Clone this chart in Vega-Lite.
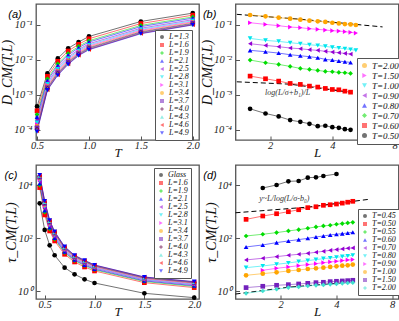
{
"$schema":"https://vega.github.io/schema/vega-lite/v6.json",
"padding":{"left":0,"top":3,"right":1,"bottom":1},
"columns":2,
"spacing":{"row":25,"column":36.5},
"bounds":"flush",
"resolve":{"scale":{"x":"independent","y":"independent","color":"independent","shape":"independent","stroke":"independent"},"legend":{"color":"independent","shape":"independent","stroke":"independent"}},
"datasets":{
"a":[
{"s":"L=1.3","x":0.5,"y":4.6e-4},{"s":"L=1.3","x":0.6,"y":4.07e-3},{"s":"L=1.3","x":0.7,"y":0.011},{"s":"L=1.3","x":0.8,"y":0.0214},{"s":"L=1.3","x":0.9,"y":0.0324},{"s":"L=1.3","x":1.0,"y":0.0468},{"s":"L=1.3","x":1.5,"y":0.126},{"s":"L=1.3","x":2.0,"y":0.219},
{"s":"L=1.6","x":0.5,"y":3.45e-4},{"s":"L=1.6","x":0.6,"y":3.37e-3},{"s":"L=1.6","x":0.7,"y":9.08e-3},{"s":"L=1.6","x":0.8,"y":0.0179},{"s":"L=1.6","x":0.9,"y":0.0278},{"s":"L=1.6","x":1.0,"y":0.0403},{"s":"L=1.6","x":1.5,"y":0.110},{"s":"L=1.6","x":2.0,"y":0.191},
{"s":"L=1.9","x":0.5,"y":2.7e-4},{"s":"L=1.9","x":0.6,"y":2.86e-3},{"s":"L=1.9","x":0.7,"y":7.69e-3},{"s":"L=1.9","x":0.8,"y":0.0152},{"s":"L=1.9","x":0.9,"y":0.0243},{"s":"L=1.9","x":1.0,"y":0.0353},{"s":"L=1.9","x":1.5,"y":0.0973},{"s":"L=1.9","x":2.0,"y":0.170},
{"s":"L=2.1","x":0.5,"y":2.3e-4},{"s":"L=2.1","x":0.6,"y":2.56e-3},{"s":"L=2.1","x":0.7,"y":6.89e-3},{"s":"L=2.1","x":0.8,"y":0.0137},{"s":"L=2.1","x":0.9,"y":0.0222},{"s":"L=2.1","x":1.0,"y":0.0324},{"s":"L=2.1","x":1.5,"y":0.0897},{"s":"L=2.1","x":2.0,"y":0.157},
{"s":"L=2.5","x":0.5,"y":1.84e-4},{"s":"L=2.5","x":0.6,"y":2.22e-3},{"s":"L=2.5","x":0.7,"y":5.97e-3},{"s":"L=2.5","x":0.8,"y":0.0119},{"s":"L=2.5","x":0.9,"y":0.0197},{"s":"L=2.5","x":1.0,"y":0.0289},{"s":"L=2.5","x":1.5,"y":0.0807},{"s":"L=2.5","x":2.0,"y":0.142},
{"s":"L=2.8","x":0.5,"y":1.58e-4},{"s":"L=2.8","x":0.6,"y":2.01e-3},{"s":"L=2.8","x":0.7,"y":5.41e-3},{"s":"L=2.8","x":0.8,"y":0.0109},{"s":"L=2.8","x":0.9,"y":0.0182},{"s":"L=2.8","x":1.0,"y":0.0267},{"s":"L=2.8","x":1.5,"y":0.0752},{"s":"L=2.8","x":2.0,"y":0.132},
{"s":"L=3.1","x":0.5,"y":1.39e-4},{"s":"L=3.1","x":0.6,"y":1.84e-3},{"s":"L=3.1","x":0.7,"y":4.94e-3},{"s":"L=3.1","x":0.8,"y":9.98e-3},{"s":"L=3.1","x":0.9,"y":0.0169},{"s":"L=3.1","x":1.0,"y":0.0249},{"s":"L=3.1","x":1.5,"y":0.0705},{"s":"L=3.1","x":2.0,"y":0.124},
{"s":"L=3.4","x":0.5,"y":1.23e-4},{"s":"L=3.4","x":0.6,"y":1.70e-3},{"s":"L=3.4","x":0.7,"y":4.58e-3},{"s":"L=3.4","x":0.8,"y":9.27e-3},{"s":"L=3.4","x":0.9,"y":0.0159},{"s":"L=3.4","x":1.0,"y":0.0234},{"s":"L=3.4","x":1.5,"y":0.0665},{"s":"L=3.4","x":2.0,"y":0.118},
{"s":"L=3.7","x":0.5,"y":1.12e-4},{"s":"L=3.7","x":0.6,"y":1.59e-3},{"s":"L=3.7","x":0.7,"y":4.29e-3},{"s":"L=3.7","x":0.8,"y":8.69e-3},{"s":"L=3.7","x":0.9,"y":0.0151},{"s":"L=3.7","x":1.0,"y":0.0222},{"s":"L=3.7","x":1.5,"y":0.0634},{"s":"L=3.7","x":2.0,"y":0.112},
{"s":"L=4.0","x":0.5,"y":1.03e-4},{"s":"L=4.0","x":0.6,"y":1.51e-3},{"s":"L=4.0","x":0.7,"y":4.06e-3},{"s":"L=4.0","x":0.8,"y":8.24e-3},{"s":"L=4.0","x":0.9,"y":0.0144},{"s":"L=4.0","x":1.0,"y":0.0213},{"s":"L=4.0","x":1.5,"y":0.0610},{"s":"L=4.0","x":2.0,"y":0.108},
{"s":"L=4.3","x":0.5,"y":9.6e-5},{"s":"L=4.3","x":0.6,"y":1.44e-3},{"s":"L=4.3","x":0.7,"y":3.88e-3},{"s":"L=4.3","x":0.8,"y":7.91e-3},{"s":"L=4.3","x":0.9,"y":0.0139},{"s":"L=4.3","x":1.0,"y":0.0206},{"s":"L=4.3","x":1.5,"y":0.0590},{"s":"L=4.3","x":2.0,"y":0.105},
{"s":"L=4.6","x":0.5,"y":9.2e-5},{"s":"L=4.6","x":0.6,"y":1.39e-3},{"s":"L=4.6","x":0.7,"y":3.75e-3},{"s":"L=4.6","x":0.8,"y":7.66e-3},{"s":"L=4.6","x":0.9,"y":0.0136},{"s":"L=4.6","x":1.0,"y":0.0200},{"s":"L=4.6","x":1.5,"y":0.0575},{"s":"L=4.6","x":2.0,"y":0.102},
{"s":"L=4.9","x":0.5,"y":8.7e-5},{"s":"L=4.9","x":0.6,"y":1.35e-3},{"s":"L=4.9","x":0.7,"y":3.63e-3},{"s":"L=4.9","x":0.8,"y":7.41e-3},{"s":"L=4.9","x":0.9,"y":0.0132},{"s":"L=4.9","x":1.0,"y":0.0195},{"s":"L=4.9","x":1.5,"y":0.0562},{"s":"L=4.9","x":2.0,"y":0.100}
],
"b":[
{"s":"T=2.00","x":1.6,"y":0.193},{"s":"T=2.00","x":1.9,"y":0.177},{"s":"T=2.00","x":2.2,"y":0.162},{"s":"T=2.00","x":2.5,"y":0.152},{"s":"T=2.00","x":2.8,"y":0.142},{"s":"T=2.00","x":3.1,"y":0.133},{"s":"T=2.00","x":3.4,"y":0.127},{"s":"T=2.00","x":3.7,"y":0.122},{"s":"T=2.00","x":4.0,"y":0.116},{"s":"T=2.00","x":4.3,"y":0.111},{"s":"T=2.00","x":4.6,"y":0.106},{"s":"T=2.00","x":4.9,"y":0.104},{"s":"T=2.00","x":5.2,"y":0.0998},
{"s":"T=1.50","x":1.6,"y":0.116},{"s":"T=1.50","x":1.9,"y":0.104},{"s":"T=1.50","x":2.2,"y":0.0953},{"s":"T=1.50","x":2.5,"y":0.0873},{"s":"T=1.50","x":2.8,"y":0.0836},{"s":"T=1.50","x":3.1,"y":0.0782},{"s":"T=1.50","x":3.4,"y":0.0748},{"s":"T=1.50","x":3.7,"y":0.0716},{"s":"T=1.50","x":4.0,"y":0.0685},{"s":"T=1.50","x":4.3,"y":0.067},{"s":"T=1.50","x":4.6,"y":0.0641},{"s":"T=1.50","x":4.9,"y":0.0614},{"s":"T=1.50","x":5.2,"y":0.0587},
{"s":"T=1.00","x":1.6,"y":0.0412},{"s":"T=1.00","x":1.9,"y":0.0361},{"s":"T=1.00","x":2.2,"y":0.0338},{"s":"T=1.00","x":2.5,"y":0.031},{"s":"T=1.00","x":2.8,"y":0.029},{"s":"T=1.00","x":3.1,"y":0.0271},{"s":"T=1.00","x":3.4,"y":0.0259},{"s":"T=1.00","x":3.7,"y":0.0243},{"s":"T=1.00","x":4.0,"y":0.0228},{"s":"T=1.00","x":4.3,"y":0.0218},{"s":"T=1.00","x":4.6,"y":0.0208},{"s":"T=1.00","x":4.9,"y":0.0199},{"s":"T=1.00","x":5.2,"y":0.0187},
{"s":"T=0.90","x":1.6,"y":0.029},{"s":"T=0.90","x":1.9,"y":0.0259},{"s":"T=0.90","x":2.2,"y":0.0238},{"s":"T=0.90","x":2.5,"y":0.0218},{"s":"T=0.90","x":2.8,"y":0.0208},{"s":"T=0.90","x":3.1,"y":0.0195},{"s":"T=0.90","x":3.4,"y":0.0187},{"s":"T=0.90","x":3.7,"y":0.0175},{"s":"T=0.90","x":4.0,"y":0.0167},{"s":"T=0.90","x":4.3,"y":0.016},{"s":"T=0.90","x":4.6,"y":0.0153},{"s":"T=0.90","x":4.9,"y":0.0146},
{"s":"T=0.80","x":1.6,"y":0.0187},{"s":"T=0.80","x":1.9,"y":0.0171},{"s":"T=0.80","x":2.2,"y":0.0156},{"s":"T=0.80","x":2.5,"y":0.014},{"s":"T=0.80","x":2.8,"y":0.0131},{"s":"T=0.80","x":3.1,"y":0.0123},{"s":"T=0.80","x":3.4,"y":0.0115},{"s":"T=0.80","x":3.7,"y":0.0103},{"s":"T=0.80","x":4.0,"y":0.00984},{"s":"T=0.80","x":4.3,"y":0.0092},{"s":"T=0.80","x":4.6,"y":0.00881},{"s":"T=0.80","x":4.9,"y":0.00843},
{"s":"T=0.70","x":1.6,"y":0.00984},{"s":"T=0.70","x":1.9,"y":0.00824},{"s":"T=0.70","x":2.2,"y":0.00738},{"s":"T=0.70","x":2.5,"y":0.00647},{"s":"T=0.70","x":2.8,"y":0.00566},{"s":"T=0.70","x":3.1,"y":0.00531},{"s":"T=0.70","x":3.4,"y":0.00497},{"s":"T=0.70","x":3.7,"y":0.00465},{"s":"T=0.70","x":4.0,"y":0.00455},{"s":"T=0.70","x":4.3,"y":0.00435},{"s":"T=0.70","x":4.6,"y":0.00426},{"s":"T=0.70","x":4.9,"y":0.00407},
{"s":"T=0.60","x":1.6,"y":0.00341},{"s":"T=0.60","x":1.9,"y":0.00286},{"s":"T=0.60","x":2.2,"y":0.00245},{"s":"T=0.60","x":2.5,"y":0.0021},{"s":"T=0.60","x":2.8,"y":0.00197},{"s":"T=0.60","x":3.1,"y":0.00176},{"s":"T=0.60","x":3.4,"y":0.00165},{"s":"T=0.60","x":3.7,"y":0.00151},{"s":"T=0.60","x":4.0,"y":0.00141},{"s":"T=0.60","x":4.3,"y":0.00138},{"s":"T=0.60","x":4.6,"y":0.00126},{"s":"T=0.60","x":4.9,"y":0.00118},
{"s":"T=0.50","x":1.6,"y":3.93e-4},{"s":"T=0.50","x":1.9,"y":2.88e-4},{"s":"T=0.50","x":2.2,"y":2.37e-4},{"s":"T=0.50","x":2.5,"y":1.86e-4},{"s":"T=0.50","x":2.8,"y":1.66e-4},{"s":"T=0.50","x":3.1,"y":1.46e-4},{"s":"T=0.50","x":3.4,"y":1.25e-4},{"s":"T=0.50","x":3.7,"y":1.28e-4},{"s":"T=0.50","x":4.0,"y":1.17e-4},{"s":"T=0.50","x":4.3,"y":1.12e-4},{"s":"T=0.50","x":4.6,"y":1.02e-4},{"s":"T=0.50","x":4.9,"y":9.8e-5}
],
"bf":[
{"f":"b1","x":1.38,"y":0.202},{"f":"b1","x":2.85,"y":0.145},{"f":"b1","x":7.0,"y":0.088},
{"f":"b2","x":1.38,"y":0.00234},{"f":"b2","x":2.5,"y":0.0020},{"f":"b2","x":4.95,"y":0.00115}
],
"c":[
{"s":"Glass","x":0.45,"y":2120},{"s":"Glass","x":0.5,"y":209},{"s":"Glass","x":0.55,"y":55.2},{"s":"Glass","x":0.6,"y":23.2},{"s":"Glass","x":0.7,"y":7.93},{"s":"Glass","x":0.8,"y":4.45},{"s":"Glass","x":0.9,"y":2.88},{"s":"Glass","x":1.0,"y":2.09},{"s":"Glass","x":1.5,"y":0.853},{"s":"Glass","x":2.0,"y":0.585},
{"s":"L=1.6","x":0.45,"y":8280},{"s":"L=1.6","x":0.5,"y":771},{"s":"L=1.6","x":0.55,"y":192},{"s":"L=1.6","x":0.6,"y":80.5},{"s":"L=1.6","x":0.7,"y":25.3},{"s":"L=1.6","x":0.8,"y":12.97},{"s":"L=1.6","x":0.9,"y":8.41},{"s":"L=1.6","x":1.0,"y":5.94},{"s":"L=1.6","x":1.5,"y":2.15},{"s":"L=1.6","x":2.0,"y":1.40},
{"s":"L=1.9","x":0.45,"y":10300},{"s":"L=1.9","x":0.5,"y":984},{"s":"L=1.9","x":0.55,"y":231},{"s":"L=1.9","x":0.6,"y":94.6},{"s":"L=1.9","x":0.7,"y":28.9},{"s":"L=1.9","x":0.8,"y":14.6},{"s":"L=1.9","x":0.9,"y":9.44},{"s":"L=1.9","x":1.0,"y":6.59},{"s":"L=1.9","x":1.5,"y":2.38},{"s":"L=1.9","x":2.0,"y":1.55},
{"s":"L=2.1","x":0.45,"y":11800},{"s":"L=2.1","x":0.5,"y":1140},{"s":"L=2.1","x":0.55,"y":258},{"s":"L=2.1","x":0.6,"y":104.5},{"s":"L=2.1","x":0.7,"y":31.3},{"s":"L=2.1","x":0.8,"y":15.6},{"s":"L=2.1","x":0.9,"y":10.1},{"s":"L=2.1","x":1.0,"y":7.01},{"s":"L=2.1","x":1.5,"y":2.52},{"s":"L=2.1","x":2.0,"y":1.65},
{"s":"L=2.5","x":0.45,"y":13900},{"s":"L=2.5","x":0.5,"y":1360},{"s":"L=2.5","x":0.55,"y":296},{"s":"L=2.5","x":0.6,"y":118},{"s":"L=2.5","x":0.7,"y":34.6},{"s":"L=2.5","x":0.8,"y":17.0},{"s":"L=2.5","x":0.9,"y":11.0},{"s":"L=2.5","x":1.0,"y":7.59},{"s":"L=2.5","x":1.5,"y":2.72},{"s":"L=2.5","x":2.0,"y":1.78},
{"s":"L=2.8","x":0.45,"y":15700},{"s":"L=2.8","x":0.5,"y":1560},{"s":"L=2.8","x":0.55,"y":329},{"s":"L=2.8","x":0.6,"y":129},{"s":"L=2.8","x":0.7,"y":37.2},{"s":"L=2.8","x":0.8,"y":18.2},{"s":"L=2.8","x":0.9,"y":11.8},{"s":"L=2.8","x":1.0,"y":8.04},{"s":"L=2.8","x":1.5,"y":2.86},{"s":"L=2.8","x":2.0,"y":1.89},
{"s":"L=3.1","x":0.45,"y":17300},{"s":"L=3.1","x":0.5,"y":1740},{"s":"L=3.1","x":0.55,"y":357},{"s":"L=3.1","x":0.6,"y":139},{"s":"L=3.1","x":0.7,"y":39.5},{"s":"L=3.1","x":0.8,"y":19.1},{"s":"L=3.1","x":0.9,"y":12.4},{"s":"L=3.1","x":1.0,"y":8.41},{"s":"L=3.1","x":1.5,"y":2.99},{"s":"L=3.1","x":2.0,"y":1.98},
{"s":"L=3.4","x":0.45,"y":18900},{"s":"L=3.4","x":0.5,"y":1920},{"s":"L=3.4","x":0.55,"y":385},{"s":"L=3.4","x":0.6,"y":148},{"s":"L=3.4","x":0.7,"y":41.7},{"s":"L=3.4","x":0.8,"y":20.0},{"s":"L=3.4","x":0.9,"y":13.0},{"s":"L=3.4","x":1.0,"y":8.79},{"s":"L=3.4","x":1.5,"y":3.12},{"s":"L=3.4","x":2.0,"y":2.07},
{"s":"L=3.7","x":0.45,"y":20400},{"s":"L=3.7","x":0.5,"y":2090},{"s":"L=3.7","x":0.55,"y":410},{"s":"L=3.7","x":0.6,"y":157},{"s":"L=3.7","x":0.7,"y":43.7},{"s":"L=3.7","x":0.8,"y":20.9},{"s":"L=3.7","x":0.9,"y":13.5},{"s":"L=3.7","x":1.0,"y":9.10},{"s":"L=3.7","x":1.5,"y":3.22},{"s":"L=3.7","x":2.0,"y":2.14},
{"s":"L=4.0","x":0.45,"y":21800},{"s":"L=4.0","x":0.5,"y":2250},{"s":"L=4.0","x":0.55,"y":435},{"s":"L=4.0","x":0.6,"y":164},{"s":"L=4.0","x":0.7,"y":45.4},{"s":"L=4.0","x":0.8,"y":21.6},{"s":"L=4.0","x":0.9,"y":14.0},{"s":"L=4.0","x":1.0,"y":9.40},{"s":"L=4.0","x":1.5,"y":3.32},{"s":"L=4.0","x":2.0,"y":2.21},
{"s":"L=4.3","x":0.45,"y":23100},{"s":"L=4.3","x":0.5,"y":2390},{"s":"L=4.3","x":0.55,"y":455},{"s":"L=4.3","x":0.6,"y":171},{"s":"L=4.3","x":0.7,"y":47.0},{"s":"L=4.3","x":0.8,"y":22.2},{"s":"L=4.3","x":0.9,"y":14.4},{"s":"L=4.3","x":1.0,"y":9.64},{"s":"L=4.3","x":1.5,"y":3.40},{"s":"L=4.3","x":2.0,"y":2.26},
{"s":"L=4.6","x":0.45,"y":24100},{"s":"L=4.6","x":0.5,"y":2510},{"s":"L=4.6","x":0.55,"y":472},{"s":"L=4.6","x":0.6,"y":177},{"s":"L=4.6","x":0.7,"y":48.2},{"s":"L=4.6","x":0.8,"y":22.8},{"s":"L=4.6","x":0.9,"y":14.7},{"s":"L=4.6","x":1.0,"y":9.84},{"s":"L=4.6","x":1.5,"y":3.48},{"s":"L=4.6","x":2.0,"y":2.31},
{"s":"L=4.9","x":0.45,"y":24900},{"s":"L=4.9","x":0.5,"y":2600},{"s":"L=4.9","x":0.55,"y":485},{"s":"L=4.9","x":0.6,"y":181},{"s":"L=4.9","x":0.7,"y":49.2},{"s":"L=4.9","x":0.8,"y":23.2},{"s":"L=4.9","x":0.9,"y":15.0},{"s":"L=4.9","x":1.0,"y":10.0},{"s":"L=4.9","x":1.5,"y":3.52},{"s":"L=4.9","x":2.0,"y":2.35}
],
"d":[
{"s":"T=0.45","x":1.6,"y":8000},{"s":"T=0.45","x":1.9,"y":10400},{"s":"T=0.45","x":2.2,"y":14300},{"s":"T=0.45","x":2.5,"y":14700},{"s":"T=0.45","x":2.8,"y":19600},{"s":"T=0.45","x":3.1,"y":20300},{"s":"T=0.45","x":3.4,"y":22700},{"s":"T=0.45","x":4.0,"y":27000},
{"s":"T=0.50","x":1.3,"y":525},{"s":"T=0.50","x":1.6,"y":702},{"s":"T=0.50","x":1.9,"y":857},{"s":"T=0.50","x":2.2,"y":1020},{"s":"T=0.50","x":2.5,"y":1210},{"s":"T=0.50","x":2.8,"y":1450},{"s":"T=0.50","x":3.1,"y":1570},{"s":"T=0.50","x":3.4,"y":1780},{"s":"T=0.50","x":3.7,"y":1870},{"s":"T=0.50","x":4.0,"y":1990},{"s":"T=0.50","x":4.3,"y":2150},{"s":"T=0.50","x":4.6,"y":2330},{"s":"T=0.50","x":4.9,"y":2520},
{"s":"T=0.55","x":1.3,"y":124},{"s":"T=0.55","x":1.6,"y":144},{"s":"T=0.55","x":1.9,"y":166},{"s":"T=0.55","x":2.2,"y":192},{"s":"T=0.55","x":2.5,"y":215},{"s":"T=0.55","x":2.8,"y":242},{"s":"T=0.55","x":3.1,"y":272},{"s":"T=0.55","x":3.4,"y":296},{"s":"T=0.55","x":3.7,"y":314},{"s":"T=0.55","x":4.0,"y":343},{"s":"T=0.55","x":4.3,"y":363},{"s":"T=0.55","x":4.6,"y":385},{"s":"T=0.55","x":4.9,"y":407},
{"s":"T=0.60","x":1.3,"y":47.8},{"s":"T=0.60","x":1.6,"y":56.9},{"s":"T=0.60","x":1.9,"y":69.7},{"s":"T=0.60","x":2.2,"y":80.5},{"s":"T=0.60","x":2.5,"y":90.4},{"s":"T=0.60","x":2.8,"y":101},{"s":"T=0.60","x":3.1,"y":114},{"s":"T=0.60","x":3.4,"y":124},{"s":"T=0.60","x":3.7,"y":136},{"s":"T=0.60","x":4.0,"y":144},{"s":"T=0.60","x":4.3,"y":152},{"s":"T=0.60","x":4.6,"y":161},{"s":"T=0.60","x":4.9,"y":171},
{"s":"T=0.70","x":1.3,"y":15.5},{"s":"T=0.70","x":1.6,"y":17.9},{"s":"T=0.70","x":1.9,"y":20.6},{"s":"T=0.70","x":2.2,"y":23.2},{"s":"T=0.70","x":2.5,"y":25.3},{"s":"T=0.70","x":2.8,"y":27.5},{"s":"T=0.70","x":3.1,"y":30.1},{"s":"T=0.70","x":3.4,"y":32.8},{"s":"T=0.70","x":3.7,"y":35.7},{"s":"T=0.70","x":4.0,"y":37.9},{"s":"T=0.70","x":4.3,"y":40.2},{"s":"T=0.70","x":4.6,"y":42.6},{"s":"T=0.70","x":4.9,"y":43.9},
{"s":"T=0.80","x":1.3,"y":7.93},{"s":"T=0.80","x":1.6,"y":9.16},{"s":"T=0.80","x":1.9,"y":10.6},{"s":"T=0.80","x":2.2,"y":11.9},{"s":"T=0.80","x":2.5,"y":13.4},{"s":"T=0.80","x":2.8,"y":14.6},{"s":"T=0.80","x":3.1,"y":15.9},{"s":"T=0.80","x":3.4,"y":17.3},{"s":"T=0.80","x":3.7,"y":18.4},{"s":"T=0.80","x":4.0,"y":19.5},{"s":"T=0.80","x":4.3,"y":20.6},{"s":"T=0.80","x":4.6,"y":21.9},{"s":"T=0.80","x":4.9,"y":23.2},
{"s":"T=0.90","x":1.6,"y":6.30},{"s":"T=0.90","x":1.9,"y":7.48},{"s":"T=0.90","x":2.2,"y":8.41},{"s":"T=0.90","x":2.5,"y":9.44},{"s":"T=0.90","x":2.8,"y":10.3},{"s":"T=0.90","x":3.1,"y":11.2},{"s":"T=0.90","x":3.4,"y":12.2},{"s":"T=0.90","x":3.7,"y":13.0},{"s":"T=0.90","x":4.0,"y":13.7},{"s":"T=0.90","x":4.3,"y":14.6},{"s":"T=0.90","x":4.6,"y":15.5},{"s":"T=0.90","x":4.9,"y":15.9},
{"s":"T=1.00","x":1.3,"y":4.07},{"s":"T=1.00","x":1.6,"y":4.71},{"s":"T=1.00","x":1.9,"y":5.28},{"s":"T=1.00","x":2.2,"y":5.94},{"s":"T=1.00","x":2.5,"y":6.47},{"s":"T=1.00","x":2.8,"y":7.06},{"s":"T=1.00","x":3.1,"y":7.48},{"s":"T=1.00","x":3.4,"y":7.93},{"s":"T=1.00","x":3.7,"y":8.41},{"s":"T=1.00","x":4.0,"y":8.91},{"s":"T=1.00","x":4.3,"y":9.44},{"s":"T=1.00","x":4.6,"y":9.70},{"s":"T=1.00","x":4.9,"y":10.3},
{"s":"T=1.50","x":1.3,"y":1.40},{"s":"T=1.50","x":1.6,"y":1.57},{"s":"T=1.50","x":1.9,"y":1.71},{"s":"T=1.50","x":2.2,"y":1.81},{"s":"T=1.50","x":2.5,"y":1.92},{"s":"T=1.50","x":2.8,"y":2.03},{"s":"T=1.50","x":3.1,"y":2.15},{"s":"T=1.50","x":3.4,"y":2.22},{"s":"T=1.50","x":3.7,"y":2.35},{"s":"T=1.50","x":4.0,"y":2.42},{"s":"T=1.50","x":4.3,"y":2.49},{"s":"T=1.50","x":4.6,"y":2.56},{"s":"T=1.50","x":4.9,"y":2.64},
{"s":"T=2.00","x":1.3,"y":0.853},{"s":"T=2.00","x":1.6,"y":1.04},{"s":"T=2.00","x":1.9,"y":1.21},{"s":"T=2.00","x":2.2,"y":1.40},{"s":"T=2.00","x":2.5,"y":1.48},{"s":"T=2.00","x":2.8,"y":1.61},{"s":"T=2.00","x":3.1,"y":1.71},{"s":"T=2.00","x":3.4,"y":1.76},{"s":"T=2.00","x":3.7,"y":1.86},{"s":"T=2.00","x":4.0,"y":1.92},{"s":"T=2.00","x":4.3,"y":2.03},{"s":"T=2.00","x":4.6,"y":2.09},{"s":"T=2.00","x":4.9,"y":2.15}
],
"df":[
{"f":"d1","x":1.14,"y":930},{"f":"d1","x":2.8,"y":1520},{"f":"d1","x":6.0,"y":3000},
{"f":"d2","x":1.14,"y":0.8},{"f":"d2","x":2.2,"y":1.45},{"f":"d2","x":4.7,"y":2.2}
],
"one":[{}]
},
"concat":[
{"width":163,"height":136,
"layer":[
{"data":{"name":"a"},"mark":{"type":"line","strokeWidth":1,"opacity":0.55},
"encoding":{"x":{"field":"x","type":"quantitative","scale":{"domain":[0.49,2.06],"nice":false,"zero":false},"axis":{"title":"T","values":[0.5,1,1.5,2]}},
"y":{"field":"y","type":"quantitative","scale":{"type":"log","domain":[5e-5,0.4],"nice":false},"axis":{"title":"D_CM(T,L)","values":[1e-4,1e-3,1e-2,1e-1],"labelExpr":"datum.value < 0.0005 ? '10⁻⁴' : datum.value < 0.005 ? '10⁻³' : datum.value < 0.05 ? '10⁻²' : '10⁻¹'"}},
"stroke":{"field":"s","type":"nominal","scale":{"domain":["L=1.3","L=1.6","L=1.9","L=2.1","L=2.5","L=2.8","L=3.1","L=3.4","L=3.7","L=4.0","L=4.3","L=4.6","L=4.9"],"range":["#000000","#ff0000","#00dd00","#0000ff","#9400d3","#00e5ee","#ff00ff","#ffa500","#7221bc","#670748","#40e0d0","#ff0000","#0000ff"]},
"legend":{"title":null,"orient":"none","legendX":119,"legendY":26,"rowPadding":0,"labelFontSize":8,"symbolSize":16}}}},
{"data":{"name":"a"},"mark":{"type":"point","filled":true,"size":22,"opacity":1},
"encoding":{"x":{"field":"x","type":"quantitative"},"y":{"field":"y","type":"quantitative"},
"color":{"field":"s","type":"nominal","scale":{"domain":["L=1.3","L=1.6","L=1.9","L=2.1","L=2.5","L=2.8","L=3.1","L=3.4","L=3.7","L=4.0","L=4.3","L=4.6","L=4.9"],"range":["#000000","#ff0000","#00dd00","#0000ff","#9400d3","#00e5ee","#ff00ff","#ffa500","#7221bc","#670748","#40e0d0","#ff0000","#0000ff"]},
"legend":{"title":null,"orient":"none","legendX":119,"legendY":26,"rowPadding":0,"labelFontSize":8,"symbolSize":16}},
"shape":{"field":"s","type":"nominal","scale":{"domain":["L=1.3","L=1.6","L=1.9","L=2.1","L=2.5","L=2.8","L=3.1","L=3.4","L=3.7","L=4.0","L=4.3","L=4.6","L=4.9"],"range":["circle","square","diamond","triangle-up","triangle-left","triangle-down","triangle-right","circle","square","diamond","triangle-up","triangle-left","triangle-down"]},
"legend":{"title":null,"orient":"none","legendX":119,"legendY":26,"rowPadding":0,"labelFontSize":8,"symbolSize":16}}}},
{"data":{"name":"one"},"mark":{"type":"text","text":"(a)","font":"Liberation Sans","fontStyle":"italic","fontSize":11},"encoding":{"x":{"datum":0.288},"y":{"datum":0.193}}}
]},
{"width":163,"height":136,
"layer":[
{"data":{"name":"bf"},"mark":{"type":"line","strokeWidth":1,"color":"black","strokeDash":[5,3]},
"encoding":{"x":{"field":"x","type":"quantitative","scale":{"type":"log","domain":[1.36,8.36],"nice":false},"axis":{"title":"L","values":[2,4,8]}},
"y":{"field":"y","type":"quantitative","scale":{"type":"log","domain":[5e-5,0.4],"nice":false},"axis":{"title":"D_CM(T,L)","values":[1e-4,1e-3,1e-2,1e-1],"labelExpr":"datum.value < 0.0005 ? '10⁻⁴' : datum.value < 0.005 ? '10⁻³' : datum.value < 0.05 ? '10⁻²' : '10⁻¹'"}},
"detail":{"field":"f","type":"nominal"}}},
{"data":{"name":"b"},"mark":{"type":"line","strokeWidth":1,"opacity":0.55},
"encoding":{"x":{"field":"x","type":"quantitative"},"y":{"field":"y","type":"quantitative"},
"stroke":{"field":"s","type":"nominal","scale":{"domain":["T=2.00","T=1.50","T=1.00","T=0.90","T=0.80","T=0.70","T=0.60","T=0.50"],"range":["#ffa500","#ff00ff","#00e5ee","#9400d3","#0000ff","#00dd00","#ff0000","#000000"]},
"legend":{"title":null,"orient":"none","legendX":121.5,"legendY":54,"rowPadding":0,"labelFontSize":9,"symbolSize":25}}}},
{"data":{"name":"b"},"mark":{"type":"point","filled":true,"size":22,"opacity":1},
"encoding":{"x":{"field":"x","type":"quantitative"},"y":{"field":"y","type":"quantitative"},
"color":{"field":"s","type":"nominal","scale":{"domain":["T=2.00","T=1.50","T=1.00","T=0.90","T=0.80","T=0.70","T=0.60","T=0.50"],"range":["#ffa500","#ff00ff","#00e5ee","#9400d3","#0000ff","#00dd00","#ff0000","#000000"]},
"legend":{"title":null,"orient":"none","legendX":121.5,"legendY":54,"rowPadding":0,"labelFontSize":9,"symbolSize":25}},
"shape":{"field":"s","type":"nominal","scale":{"domain":["T=2.00","T=1.50","T=1.00","T=0.90","T=0.80","T=0.70","T=0.60","T=0.50"],"range":["circle","triangle-right","triangle-down","triangle-left","triangle-up","diamond","square","circle"]},
"legend":{"title":null,"orient":"none","legendX":121.5,"legendY":54,"rowPadding":0,"labelFontSize":9,"symbolSize":25}}}},
{"data":{"name":"one"},"mark":{"type":"text","text":"log(L/σ+b₁)/L","font":"Liberation Serif","fontStyle":"italic","fontSize":8,"color":"#333"},"encoding":{"x":{"datum":2.43},"y":{"datum":0.00109}}},
{"data":{"name":"one"},"mark":{"type":"text","text":"(b)","font":"Liberation Sans","fontStyle":"italic","fontSize":11},"encoding":{"x":{"datum":1.02},"y":{"datum":0.193}}}
]},
{"width":163,"height":134,
"layer":[
{"data":{"name":"c"},"mark":{"type":"line","strokeWidth":1,"opacity":0.55},
"encoding":{"x":{"field":"x","type":"quantitative","scale":{"domain":[0.413,2.048],"nice":false,"zero":false},"axis":{"title":"T","values":[0.5,1,1.5,2]}},
"y":{"field":"y","type":"quantitative","scale":{"type":"log","domain":[0.52,59000],"nice":false},"axis":{"title":"τ_CM(T,L)","values":[1,100,10000],"labelExpr":"datum.value < 10 ? '10⁰' : datum.value < 1000 ? '10²' : '10⁴'"}},
"stroke":{"field":"s","type":"nominal","scale":{"domain":["Glass","L=1.6","L=1.9","L=2.1","L=2.5","L=2.8","L=3.1","L=3.4","L=3.7","L=4.0","L=4.3","L=4.6","L=4.9"],"range":["#000000","#ff0000","#00dd00","#0000ff","#9400d3","#00e5ee","#ff00ff","#ffa500","#7221bc","#670748","#40e0d0","#ff0000","#0000ff"]},
"legend":{"title":null,"orient":"none","legendX":118,"legendY":3,"rowPadding":0,"labelFontSize":8,"symbolSize":16}}}},
{"data":{"name":"c"},"mark":{"type":"point","filled":true,"size":22,"opacity":1},
"encoding":{"x":{"field":"x","type":"quantitative"},"y":{"field":"y","type":"quantitative"},
"color":{"field":"s","type":"nominal","scale":{"domain":["Glass","L=1.6","L=1.9","L=2.1","L=2.5","L=2.8","L=3.1","L=3.4","L=3.7","L=4.0","L=4.3","L=4.6","L=4.9"],"range":["#000000","#ff0000","#00dd00","#0000ff","#9400d3","#00e5ee","#ff00ff","#ffa500","#7221bc","#670748","#40e0d0","#ff0000","#0000ff"]},
"legend":{"title":null,"orient":"none","legendX":118,"legendY":3,"rowPadding":0,"labelFontSize":8,"symbolSize":16}},
"shape":{"field":"s","type":"nominal","scale":{"domain":["Glass","L=1.6","L=1.9","L=2.1","L=2.5","L=2.8","L=3.1","L=3.4","L=3.7","L=4.0","L=4.3","L=4.6","L=4.9"],"range":["circle","square","diamond","triangle-up","triangle-left","triangle-down","triangle-right","circle","square","diamond","triangle-up","triangle-left","triangle-down"]},
"legend":{"title":null,"orient":"none","legendX":118,"legendY":3,"rowPadding":0,"labelFontSize":8,"symbolSize":16}}}},
{"data":{"name":"one"},"mark":{"type":"text","text":"(c)","font":"Liberation Sans","fontStyle":"italic","fontSize":11},"encoding":{"x":{"datum":0.162},"y":{"datum":22700}}}
]},
{"width":163,"height":134,
"layer":[
{"data":{"name":"df"},"mark":{"type":"line","strokeWidth":1,"color":"black","strokeDash":[5,3]},
"encoding":{"x":{"field":"x","type":"quantitative","scale":{"type":"log","domain":[1.14,8.65],"nice":false},"axis":{"title":"L","values":[2,4,8]}},
"y":{"field":"y","type":"quantitative","scale":{"type":"log","domain":[0.52,59000],"nice":false},"axis":{"title":"τ_CM(T,L)","values":[1,100,10000],"labelExpr":"datum.value < 10 ? '10⁰' : datum.value < 1000 ? '10²' : '10⁴'"}},
"detail":{"field":"f","type":"nominal"}}},
{"data":{"name":"d"},"mark":{"type":"line","strokeWidth":1,"opacity":0.55},
"encoding":{"x":{"field":"x","type":"quantitative"},"y":{"field":"y","type":"quantitative"},
"stroke":{"field":"s","type":"nominal","scale":{"domain":["T=0.45","T=0.50","T=0.55","T=0.60","T=0.70","T=0.80","T=0.90","T=1.00","T=1.50","T=2.00"],"range":["#000000","#ff0000","#00dd00","#0000ff","#9400d3","#00e5ee","#ff00ff","#ffa500","#7221bc","#40e0d0"]},
"legend":{"title":null,"orient":"none","legendX":122.5,"legendY":44,"rowPadding":0,"labelFontSize":8,"symbolSize":16}}}},
{"data":{"name":"d"},"mark":{"type":"point","filled":true,"size":22,"opacity":1},
"encoding":{"x":{"field":"x","type":"quantitative"},"y":{"field":"y","type":"quantitative"},
"color":{"field":"s","type":"nominal","scale":{"domain":["T=0.45","T=0.50","T=0.55","T=0.60","T=0.70","T=0.80","T=0.90","T=1.00","T=1.50","T=2.00"],"range":["#000000","#ff0000","#00dd00","#0000ff","#9400d3","#00e5ee","#ff00ff","#ffa500","#7221bc","#40e0d0"]},
"legend":{"title":null,"orient":"none","legendX":122.5,"legendY":44,"rowPadding":0,"labelFontSize":8,"symbolSize":16}},
"shape":{"field":"s","type":"nominal","scale":{"domain":["T=0.45","T=0.50","T=0.55","T=0.60","T=0.70","T=0.80","T=0.90","T=1.00","T=1.50","T=2.00"],"range":["circle","square","diamond","triangle-up","triangle-left","triangle-down","triangle-right","circle","square","diamond"]},
"legend":{"title":null,"orient":"none","legendX":122.5,"legendY":44,"rowPadding":0,"labelFontSize":8,"symbolSize":16}}}},
{"data":{"name":"one"},"mark":{"type":"text","text":"y~L/log(L/σ-b₀)","font":"Liberation Serif","fontStyle":"italic","fontSize":8,"color":"#333"},"encoding":{"x":{"datum":2.09},"y":{"datum":3080}}},
{"data":{"name":"one"},"mark":{"type":"text","text":"(d)","font":"Liberation Sans","fontStyle":"italic","fontSize":11},"encoding":{"x":{"datum":0.83},"y":{"datum":22700}}}
]}
],
"config":{
"view":{"stroke":"#555","strokeWidth":1.3},
"axis":{"grid":false,"domain":false,"tickColor":"#555","tickSize":-4,"tickWidth":1,"labelFont":"Liberation Serif","labelFontStyle":"italic","labelFontSize":10.5,"labelColor":"#222","titleFont":"Liberation Serif","titleFontStyle":"italic","titleFontWeight":"normal","titleColor":"#111"},
"axisX":{"labelPadding":4,"titlePadding":-4,"titleFontSize":13},
"axisY":{"labelPadding":8,"titlePadding":-1,"titleFontSize":14},
"legend":{"strokeColor":"#555","fillColor":"white","padding":3,"cornerRadius":0,"labelFont":"Liberation Serif","labelFontStyle":"italic","labelFontSize":9,"labelColor":"#111","symbolSize":22,"symbolStrokeWidth":0,"labelOffset":3}
}
}
